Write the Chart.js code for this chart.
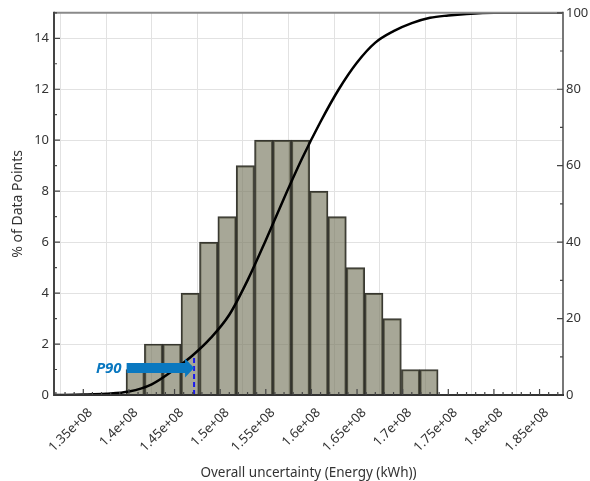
<!DOCTYPE html>
<html>
<head>
<meta charset="utf-8">
<script src="https://cdn.jsdelivr.net/npm/chart.js@4/dist/chart.umd.min.js"></script>
<style>
  html, body { margin: 0; padding: 0; background: #ffffff; }
  #wrap { width: 590px; height: 481px; }
</style>
</head>
<body>
<div id="wrap"><canvas id="c" width="590" height="481"></canvas></div>
<script>
// ---- Data ----
// Histogram bin centres (kWh) and % of data points per bin
const binCenters = [1.4069e8, 1.4270e8, 1.4471e8, 1.4672e8, 1.4874e8, 1.5075e8, 1.5276e8, 1.5477e8, 1.5678e8,
                    1.5880e8, 1.6081e8, 1.6282e8, 1.6483e8, 1.6684e8, 1.6885e8, 1.7087e8, 1.7288e8];
const binPercents = [1, 2, 2, 4, 6, 7, 9, 10, 10, 10, 8, 7, 5, 4, 3, 1, 1];

// Cumulative curve (right axis, %)
const cdfX = [1.3179e8, 1.35e8, 1.375e8, 1.40e8, 1.425e8, 1.45e8, 1.47e8, 1.49e8, 1.51e8, 1.53e8, 1.55e8, 1.57e8,
              1.59e8, 1.61e8, 1.63e8, 1.65e8, 1.67e8, 1.69e8, 1.71e8, 1.73e8, 1.75e8, 1.77e8, 1.80e8, 1.8757e8];
const cdfY = [0, 0.1, 0.3, 0.9, 2.8, 6.7, 10.4, 15, 21, 30, 40.5, 51.5,
              62, 71.5, 80, 87, 92.2, 95.2, 97.3, 98.7, 99.3, 99.7, 100, 100];

// Axis ranges / ticks
const xMin = 1.3179e8, xMax = 1.8757e8, xStep = 5e6, xMinorStep = 1e6;
const yMin = 0, yMax = 15, yStep = 2;
const y2Min = 0, y2Max = 100, y2Step = 20;

// P90 marker
const p90Value = 1.4714e8;
const p90Cdf = 10;
const p90Label = "P90";
const p90ArrowStart = 1.3975e8;
const p90ArrowLevel = 1.06;   // on left axis

const xTitle = "Overall uncertainty (Energy (kWh))";
const yTitle = "% of Data Points";

const FONT = "'Segoe UI', 'Noto Sans', 'Open Sans', sans-serif";
const TXT = '#333333';

function fmtTick(v) {
  let m = v / 1e8;
  let s = (Math.round(m * 1000) / 1000).toString();
  return s + 'e+08';
}

const framePlugin = {
  id: 'frameAndTicks',
  afterDatasetsDraw(chart) {
    const ctx = chart.ctx;
    const a = chart.chartArea;
    const xs = chart.scales.x, ys = chart.scales.y, y2s = chart.scales.y2;
    ctx.save();

    // --- P90 annotation ---
    const px = xs.getPixelForValue(p90Value);
    const pyTop = y2s.getPixelForValue(p90Cdf);
    ctx.strokeStyle = '#1a1aee';
    ctx.lineWidth = 2;
    ctx.setLineDash([5, 3]);
    ctx.beginPath();
    ctx.moveTo(px, a.bottom);
    ctx.lineTo(px, pyTop);
    ctx.stroke();
    ctx.setLineDash([]);

    const ax0 = xs.getPixelForValue(p90ArrowStart);
    const ay = ys.getPixelForValue(p90ArrowLevel);
    const headLen = 9, shaftHalf = 5, headHalf = 9.5;
    ctx.fillStyle = '#0a78c0';
    ctx.beginPath();
    ctx.moveTo(ax0, ay - shaftHalf);
    ctx.lineTo(px - headLen, ay - shaftHalf);
    ctx.lineTo(px - headLen, ay - headHalf);
    ctx.lineTo(px, ay);
    ctx.lineTo(px - headLen, ay + headHalf);
    ctx.lineTo(px - headLen, ay + shaftHalf);
    ctx.lineTo(ax0, ay + shaftHalf);
    ctx.closePath();
    ctx.fill();

    ctx.font = "italic bold 15px " + FONT;
    ctx.fillStyle = '#0a78c0';
    ctx.textAlign = 'right';
    ctx.textBaseline = 'middle';
    ctx.fillText(p90Label, ax0 - 5, ay + 1);

    // --- frame ---
    ctx.lineCap = 'butt';
    ctx.strokeStyle = '#8a8a8a';
    ctx.lineWidth = 2;
    ctx.beginPath();
    ctx.moveTo(a.left, a.top); ctx.lineTo(a.right, a.top);
    ctx.stroke();
    ctx.strokeStyle = '#777777';
    ctx.beginPath();
    ctx.moveTo(a.right, a.top - 1); ctx.lineTo(a.right, a.bottom);
    ctx.stroke();
    ctx.strokeStyle = '#444444';
    ctx.beginPath();
    ctx.moveTo(a.left, a.top - 1); ctx.lineTo(a.left, a.bottom + 1);
    ctx.stroke();
    ctx.strokeStyle = '#333333';
    ctx.beginPath();
    ctx.moveTo(a.left, a.bottom); ctx.lineTo(a.right + 1, a.bottom);
    ctx.stroke();

    // --- inner tick marks ---
    ctx.lineWidth = 1.2;
    ctx.strokeStyle = '#444444';
    ctx.beginPath();
    for (let v = yMin; v <= yMax; v += 1) {
      const p = ys.getPixelForValue(v);
      const len = (v % yStep === 0) ? 6 : 3;
      ctx.moveTo(a.left, p); ctx.lineTo(a.left + len, p);
    }
    for (let v = y2Min; v <= y2Max; v += 10) {
      const p = y2s.getPixelForValue(v);
      const len = (v % y2Step === 0) ? 6 : 3;
      ctx.moveTo(a.right, p); ctx.lineTo(a.right - len, p);
    }
    const first = Math.ceil(xMin / xMinorStep) * xMinorStep;
    for (let v = first; v <= xMax; v += xMinorStep) {
      const p = xs.getPixelForValue(v);
      const major = Math.abs(Math.round(v / xStep) * xStep - v) < 1;
      const len = major ? 6 : 3;
      ctx.moveTo(p, a.bottom); ctx.lineTo(p, a.bottom - len);
    }
    ctx.stroke();
    ctx.restore();
  }
};

new Chart(document.getElementById('c'), {
  type: 'bar',
  data: {
    datasets: [
      {
        type: 'bar',
        label: '% of Data Points',
        data: binCenters.map((x, i) => ({ x: x, y: binPercents[i] })),
        yAxisID: 'y',
        backgroundColor: 'rgba(118,118,92,0.64)',
        borderColor: 'rgba(35,35,28,0.9)',
        borderWidth: 1.5,
        borderSkipped: 'bottom',
        barPercentage: 1.0,
        categoryPercentage: 1.0,
        order: 1
      },
      {
        type: 'line',
        label: 'Cumulative',
        data: cdfX.map((x, i) => ({ x: x, y: cdfY[i] })),
        yAxisID: 'y2',
        borderColor: '#000000',
        borderWidth: 2.5,
        pointRadius: 0,
        cubicInterpolationMode: 'monotone',
        fill: false,
        order: 0
      }
    ]
  },
  options: {
    responsive: false,
    animation: false,
    devicePixelRatio: 1,
    layout: { padding: { top: 11, left: 0, right: 0, bottom: 0 } },
    plugins: { legend: { display: false }, tooltip: { enabled: false } },
    scales: {
      x: {
        type: 'linear',
        min: xMin, max: xMax,
        offset: false,
        border: { display: false },
        grid: { color: '#e2e2e2', lineWidth: 1, drawTicks: false },
        ticks: {
          autoSkip: false,
          maxRotation: 45, minRotation: 45,
          padding: 10,
          labelOffset: 7,
          color: TXT,
          font: { family: FONT, size: 13 },
          callback: (v) => fmtTick(v)
        },
        afterBuildTicks: (s) => {
          const t = [];
          for (let v = Math.ceil(xMin / xStep) * xStep; v <= xMax; v += xStep) t.push({ value: v });
          s.ticks = t;
        },
        title: {
          display: true, text: xTitle, color: TXT,
          font: { family: FONT, size: 13.5 },
          padding: { top: 8, bottom: 0 }
        },
        afterFit: (s) => { s.height = 86; }
      },
      y: {
        position: 'left',
        min: yMin, max: yMax,
        border: { display: false },
        grid: { color: '#e2e2e2', lineWidth: 1, drawTicks: false },
        ticks: {
          stepSize: yStep, includeBounds: false, padding: 5,
          color: TXT, font: { family: FONT, size: 13 }
        },
        title: {
          display: true, text: yTitle, color: TXT,
          font: { family: FONT, size: 14 },
          padding: { top: 10, bottom: 0 }
        },
        afterFit: (s) => { s.width = 54; }
      },
      y2: {
        position: 'right',
        min: y2Min, max: y2Max,
        border: { display: false },
        grid: { display: false, drawTicks: false },
        ticks: {
          stepSize: y2Step, includeBounds: false, padding: 3,
          color: TXT, font: { family: FONT, size: 13 }
        },
        afterFit: (s) => { s.width = 27; }
      }
    }
  },
  plugins: [framePlugin]
});
</script>
</body>
</html>
